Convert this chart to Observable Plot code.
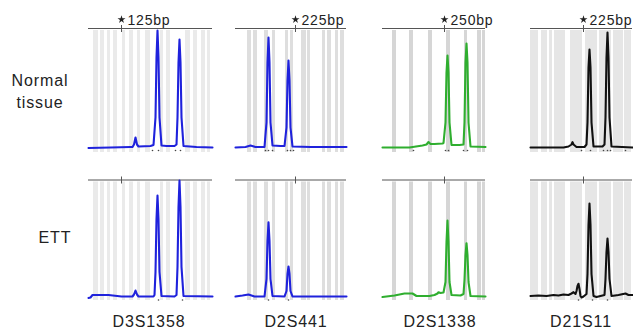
<!DOCTYPE html>
<html><head><meta charset="utf-8">
<script src="https://cdn.jsdelivr.net/npm/d3@7"></script>
<script src="https://cdn.jsdelivr.net/npm/@observablehq/plot@0.6"></script>
<style>
html,body{margin:0;padding:0;background:#fff;}
#chart{position:relative;width:633px;height:333px;overflow:hidden;font-family:"Liberation Sans",Arial,sans-serif;color:#222;}
.lab{position:absolute;font-size:16px;letter-spacing:0.9px;white-space:nowrap;transform:translate(-50%,-50%);text-align:center;line-height:22px;}
.panel{position:absolute;}
.panel text{letter-spacing:0.8px;}
</style></head><body><div id="chart"></div>
<script>
// ---------------- data ----------------
const markerNames = ["D3S1358", "D2S441", "D2S1338", "D21S11"];
const rowNames = ["Normal\ntissue", "ETT"];
const sizeTicks = [125, 225, 250, 225];
const sizeLabels = ["125bp", "225bp", "250bp", "225bp"];
const dyeColors = ["#1f22dc", "#1f22dc", "#2fae2f", "#111111"];

// size-standard bins (bp ranges)
const bins_D3S1358 = [[97,102],[104,108],[111,114],[117,121],[126,129],[133,137],[141,144],[149,154],[164,167],[170,174],[189,194],[197,201],[205,209],[211,214]];
const bins_D2S441 = [[177,181],[183,187],[194,198],[202,205],[215,218],[220,223],[231,236],[237,240],[252,255],[257,261],[265,268],[270,274]];
const bins_D2S1338 = [[198,202],[215,219],[234,238],[252,256],[270,273],[283,287],[288,291]];
const bins_D21S11 = [[172,180],[183,189],[191,194],[196,207],[212,224],[227,239],[241,253],[255,265],[266,273]];

// traces: [bp, RFU]
const normal_D3S1358 = [[92,-5],[114,0],[134,5],[136,5],[137.5,30],[139,100],[140.5,30],[142,10],[154,15],[157,25],[159,300],[160,900],[161,1170],[162,900],[163,300],[165,20],[170,15],[178,15],[180,30],[181,300],[182,850],[183,1080],[184,850],[185,300],[187,15],[200,5],[216,0]];
const normal_D2S441 = [[165,0],[175,5],[180,20],[185,5],[194,5],[196,250],[197,850],[198,1100],[199,850],[200,250],[202,20],[210,15],[214,15],[216,200],[217,670],[218,870],[219,670],[220,200],[222,10],[240,5],[276,5]];
const normal_D2S1338 = [[188,0],[215,0],[228,20],[232,30],[234,55],[236,35],[240,35],[248,40],[249,45],[251,250],[252,750],[253,920],[254,750],[255,250],[257,25],[265,25],[269,30],[270,250],[271,850],[272,1040],[273,850],[274,250],[276,10],[291,5]];
const normal_D21S11 = [[172,0],[205,0],[210,10],[213,30],[214,53],[215,30],[218,5],[226,5],[228,30],[229,250],[230,800],[231,980],[232,800],[233,250],[235,10],[244,10],[246,30],[247,300],[248,900],[249,1150],[250,900],[251,300],[253,10],[274,0]];

const ett_D3S1358 = [[92,-10],[94,-5],[96,20],[112,20],[125,5],[136,5],[137.5,25],[139,65],[140.5,25],[142,5],[157,5],[158,20],[159,250],[160,780],[161,1015],[162,780],[163,250],[165,10],[178,5],[180,20],[181,300],[182,900],[183,1165],[184,900],[185,300],[187,10],[216,5]];
const ett_D2S441 = [[165,5],[172,15],[178,25],[184,5],[194,5],[196,180],[197,560],[198,748],[199,560],[200,180],[202,10],[214,5],[216,60],[217,230],[218,305],[219,230],[220,60],[222,5],[276,5]];
const ett_D2S1338 = [[188,0],[200,15],[210,35],[218,35],[222,10],[235,10],[240,20],[243,35],[244,48],[246,40],[249,45],[251,150],[252,550],[253,765],[254,550],[255,150],[257,20],[266,15],[269,30],[270,170],[271,420],[272,538],[273,420],[274,150],[276,10],[291,5]];
const ett_D21S11 = [[172,10],[180,15],[188,10],[195,20],[200,15],[205,25],[210,20],[213,35],[215,48],[217,30],[218,60],[219,110],[220,132],[221,80],[222,10],[223,-5],[225,5],[228,30],[229,230],[230,720],[231,935],[232,720],[233,230],[235,10],[238,0],[246,20],[247,180],[248,450],[249,585],[250,450],[251,180],[253,10],[260,20],[267,35],[270,20],[274,20]];

// allele call marks (bp)
const calls_normal = [[156,162,179,184],[195,198,202,217,220,223],[219,251,254,269,273],[223,232,245,249,252,267]];
const calls_ett = [[162,186],[198,218],[],[220,234,249]];

// ---------------- layout ----------------
const bins = [bins_D3S1358, bins_D2S441, bins_D2S1338, bins_D21S11];
const traces = [[normal_D3S1358, normal_D2S441, normal_D2S1338, normal_D21S11],
                [ett_D3S1358, ett_D2S441, ett_D2S1338, ett_D21S11]];
const calls = [calls_normal, calls_ett];
const binColors = ["#eaeaea", "#dedede", "#d6d6d6", "#e6e6e6"];
const xDomains = [[92,216],[165,276],[188,291],[172,274]];
const colLeft = [88, 235, 382, 530];
const rowCfg = [
  {top: 0, marginTop: 28, plotH: 124, yDomain: [-50, 1190]},
  {top: 160, marginTop: 19.5, plotH: 120.5, yDomain: [-35, 1170]}
];

const chart = document.getElementById("chart");

for (let r = 0; r < 2; r++) {
  const rc = rowCfg[r];
  const yTop = rc.yDomain[1];
  for (let c = 0; c < 4; c++) {
    const xd = xDomains[c];
    const w = xd[1] - xd[0];
    const marks = [
      Plot.rect(bins[c], {x1: d => d[0], x2: d => d[1], y1: rc.yDomain[0], y2: yTop - 20, fill: binColors[c]}),
      Plot.ruleY([yTop], {stroke: "#555", strokeWidth: 1}),
      Plot.ruleX([sizeTicks[c]], {y1: yTop + 30, y2: yTop - 40, stroke: "#555", strokeWidth: 1}),
      Plot.dot(calls[r][c], {x: d => d, y: -30, r: 0.8, fill: "#444", stroke: "none"}),
      Plot.line(traces[r][c], {x: d => d[0], y: d => d[1], stroke: dyeColors[c], strokeWidth: 2.1, strokeLinejoin: "round"})
    ];
    if (r === 0) {
      marks.push(Plot.dot([sizeTicks[c]], {x: d => d, y: yTop, dy: -9, symbol: "star", r: 2.5, fill: "#222", stroke: "none"}));
      marks.push(Plot.text([sizeLabels[c]], {x: sizeTicks[c], y: yTop, dy: -8, dx: 6, text: d => d, textAnchor: "start", fontSize: 14, fill: "#222"}));
    }
    const svg = Plot.plot({
      width: w + 12,
      height: rc.marginTop + rc.plotH + 6,
      marginLeft: 0, marginRight: 12, marginTop: rc.marginTop, marginBottom: 6,
      x: {domain: xd, axis: null},
      y: {domain: rc.yDomain, axis: null},
      style: {background: "transparent", overflow: "visible", fontFamily: "Liberation Sans, Arial, sans-serif"},
      marks
    });
    svg.classList.add("panel");
    svg.style.left = colLeft[c] + "px";
    svg.style.top = rc.top + "px";
    svg.style.maxWidth = "none";
    chart.appendChild(svg);
  }
}

// row labels
const rowLabelPos = [[40, 92], [55, 238]];
rowNames.forEach((t, i) => {
  const d = document.createElement("div");
  d.className = "lab";
  d.innerHTML = t.replace("\n", "<br>");
  d.style.left = rowLabelPos[i][0] + "px";
  d.style.top = rowLabelPos[i][1] + "px";
  chart.appendChild(d);
});
// marker labels
const markerLabelX = [149, 296, 440, 581];
markerNames.forEach((t, i) => {
  const d = document.createElement("div");
  d.className = "lab";
  d.textContent = t;
  d.style.left = markerLabelX[i] + "px";
  d.style.top = "322px";
  chart.appendChild(d);
});
</script></body></html>
